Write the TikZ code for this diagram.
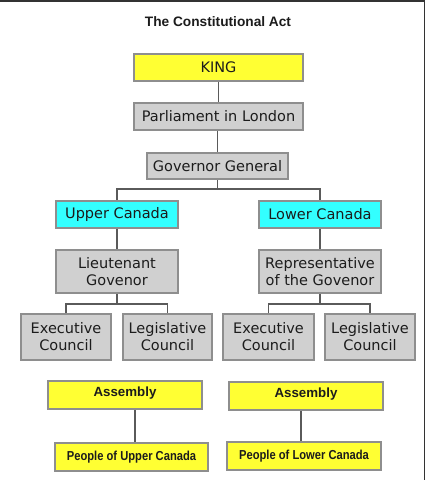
\documentclass[tikz,border=0pt]{standalone}
\usepackage{fontspec}
\setmainfont{DejaVu Sans}
\newfontfamily\titlefont{Liberation Sans}
\newfontfamily\narrowfont[FakeStretch=0.86]{Liberation Sans}
\usetikzlibrary{calc}
\definecolor{kyellow}{HTML}{FFFF33}
\definecolor{kcyan}{HTML}{33FFFF}
\definecolor{kgray}{HTML}{D0D0D0}
\definecolor{kborder}{HTML}{8E8E8E}
\definecolor{kline}{HTML}{5A5A5A}
\definecolor{ktext}{HTML}{1C1C1C}
\tikzset{
  x=1pt, y=1pt,
  box/.style={draw=kborder, line width=1.6pt, inner sep=0pt, align=center,
    text=ktext, font=\fontsize{14.5}{17}\selectfont},
  ybox/.style={box, fill=kyellow},
  cbox/.style={box, fill=kcyan},
  gbox/.style={box, fill=kgray},
  abox/.style={box, fill=kyellow, font=\titlefont\bfseries\fontsize{13.3}{15}\selectfont},
  pbox/.style={box, fill=kyellow, font=\narrowfont\bfseries\fontsize{13}{15}\selectfont},
  conn/.style={draw=kline, line width=1.3pt},
}
\begin{document}
\begin{tikzpicture}
\useasboundingbox (0,0) rectangle (426,-480);
\fill[white] (0,0) rectangle (426,-480);
\draw[line width=1.6pt, color=black!80] (0,-0.8) -- (424.6,-0.8) -- (424.6,-480);

\node[font=\titlefont\bfseries\fontsize{13.7}{15}\selectfont, text=ktext] (title) at (218,-22) {The Constitutional Act};

\node[ybox, minimum width=169, minimum height=27] (king) at (218.5,-67.5) {KING};
\node[gbox, minimum width=169, minimum height=27] (parl) at (218.5,-116.5) {Parliament in London};
\node[gbox, minimum width=141, minimum height=26] (gg) at (217.5,-166) {Governor General};

\node[cbox, minimum width=122, minimum height=27] (upper) at (117,-214.5) {Upper Canada};
\node[cbox, minimum width=122, minimum height=27] (lower) at (320,-214.5) {Lower Canada};

\node[gbox, minimum width=122, minimum height=43] (lieut) at (117,-271.5) {Lieutenant\\Govenor};
\node[gbox, minimum width=122, minimum height=43] (rep) at (320,-271.5) {Representative\\of the Govenor};

\node[gbox, minimum width=90, minimum height=46] (exec1) at (66,-337) {Executive\\Council};
\node[gbox, minimum width=89, minimum height=46] (legis1) at (167.5,-337) {Legislative\\Council};
\node[gbox, minimum width=91, minimum height=46] (exec2) at (268.5,-337) {Executive\\Council};
\node[gbox, minimum width=90, minimum height=46] (legis2) at (370,-337) {Legislative\\Council};

\node[abox, minimum width=154, minimum height=28, text depth=6pt] (asm1) at (125,-395) {Assembly};
\node[abox, minimum width=154, minimum height=28, text depth=6pt] (asm2) at (306,-396) {Assembly};

\node[pbox, minimum width=153, minimum height=28] (ppl1) at (131.5,-457) {People of Upper Canada};
\node[pbox, minimum width=154, minimum height=28] (ppl2) at (304,-456) {People of Lower Canada};

\coordinate (ggbar) at (217.5,-189);
\coordinate (lbar) at (117,-304);
\coordinate (rbar) at (320,-304);

\draw[conn] (king.south) -- (parl.north);
\draw[conn] (parl.south -| gg.north) -- (gg.north);
\draw[conn] (gg.south) -- (ggbar);
\draw[conn] (upper.north) |- (ggbar) -| (lower.north);
\draw[conn] (upper.south) -- (lieut.north);
\draw[conn] (lower.south) -- (rep.north);
\draw[conn] (lieut.south) -- (lbar);
\draw[conn] (exec1.north) |- (lbar) -| (legis1.north);
\draw[conn] (rep.south) -- (rbar);
\draw[conn] (exec2.north) |- (rbar) -| (legis2.north);
\draw[conn] ([xshift=10pt]asm1.south) -- ([xshift=10pt]asm1.south |- ppl1.north);
\draw[conn] ([xshift=-5pt]asm2.south) -- ([xshift=-5pt]asm2.south |- ppl2.north);
\end{tikzpicture}
\end{document}
